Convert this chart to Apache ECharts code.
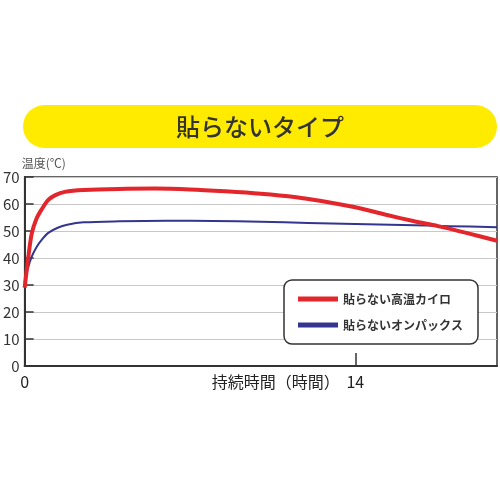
<!DOCTYPE html>
<html><head><meta charset="utf-8">
<script src="https://cdn.jsdelivr.net/npm/echarts@6/dist/echarts.min.js"></script>
<style>html,body{margin:0;padding:0;background:#fff}#c{width:500px;height:500px}</style>
</head><body><div id="c"></div>
<script>
const titleText = '貼らないタイプ';
const yName = '温度(℃)';
const xName = '持続時間（時間）';
const seriesNames = ['貼らない高温カイロ', '貼らないオンパックス'];
const xTickLabels = [0, 14];
const redData = [[0,29],[0.15,40],[0.3,49],[0.5,54.5],[0.72,58],[1,61.5],[1.3,63.3],[1.7,64.5],[2.5,65.2],[4,65.6],[5.5,65.7],[7,65.4],[8.5,64.7],[10,63.8],[11.5,62.5],[12.5,61.2],[14,58.8],[15.3,56],[16.5,53.6],[17.5,51.8],[18.7,49.3],[20,46.4]];
const blueData = [[0,31],[0.15,36.5],[0.3,40.5],[0.5,44],[0.72,46.7],[1,49.3],[1.4,51.2],[1.8,52.3],[2.5,53.2],[4,53.6],[6,53.8],[8,53.7],[10,53.4],[12,53.0],[14,52.6],[16,52.2],[18,51.8],[20,51.4]];

const FONT = '"Noto Sans CJK JP", "Noto Sans", sans-serif';
const chart = echarts.init(document.getElementById('c'), null, {renderer: 'canvas'});
chart.setOption({
  animation: false,
  textStyle: {fontFamily: FONT},
  graphic: [
    {type: 'rect', shape: {x: 23, y: 105, width: 474, height: 43, r: 21.5}, style: {fill: '#FFEB00'}, z: 0},
    {type: 'text', x: 260, y: 127, style: {text: titleText, fill: '#333', font: '500 24px ' + FONT, align: 'center', verticalAlign: 'middle'}, z: 1}
  ],
  grid: {left: 23, right: 3, top: 177, bottom: 134, show: true, borderColor: '#333', borderWidth: 1.5, backgroundColor: 'transparent'},
  legend: {
    orient: 'vertical', left: 284, top: 280,
    padding: [13, 15, 13, 14], itemGap: 14,
    itemWidth: 40, itemHeight: 5, icon: 'rect',
    backgroundColor: '#fff', borderColor: '#333', borderWidth: 1.5, borderRadius: 8,
    textStyle: {fontSize: 12, fontWeight: 'bold', color: '#333', fontFamily: FONT},
    data: seriesNames
  },
  xAxis: {
    type: 'value', min: 0, max: 20, interval: 14,
    name: xName, nameLocation: 'middle', nameGap: 8, nameMoveOverlap: false,
    nameTextStyle: {fontSize: 16, color: '#222', padding: [0, 0, 0, 30]},
    axisLine: {lineStyle: {color: '#333', width: 2}},
    axisTick: {inside: true, length: 13, lineStyle: {color: '#333', width: 1.5}},
    axisLabel: {fontSize: 16, color: '#222', margin: 8, showMaxLabel: false,
      formatter: v => xTickLabels.indexOf(v) >= 0 ? String(v) : ''},
    splitLine: {show: false}
  },
  yAxis: {
    type: 'value', min: 0, max: 70, interval: 10,
    name: yName, nameLocation: 'end', nameGap: 7,
    nameTextStyle: {fontSize: 12, color: '#555', align: 'left', padding: [0, 0, 0, -3]},
    axisLine: {show: true, lineStyle: {color: '#333', width: 2}},
    axisTick: {show: true, inside: true, length: 9, lineStyle: {color: '#333', width: 1.5}},
    axisLabel: {fontSize: 15, color: '#333', margin: 5},
    splitLine: {lineStyle: {color: '#c8c8c8', width: 1}}
  },
  series: [
    {name: seriesNames[0], type: 'line', data: redData, smooth: 0.3, showSymbol: false, lineStyle: {color: '#E3262B', width: 4}, itemStyle: {color: '#E3262B'}, z: 3},
    {name: seriesNames[1], type: 'line', data: blueData, smooth: 0.3, showSymbol: false, lineStyle: {color: '#33358F', width: 2}, itemStyle: {color: '#33358F'}, z: 2}
  ]
});
</script></body></html>
